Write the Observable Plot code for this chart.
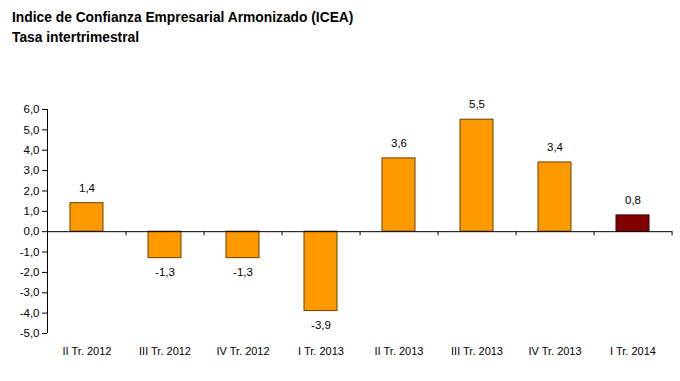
<!DOCTYPE html>
<html><head><meta charset="utf-8">
<script src="https://cdn.jsdelivr.net/npm/d3@7"></script>
<script src="https://cdn.jsdelivr.net/npm/@observablehq/plot@0.6"></script>
<style>
body{margin:0;background:#fff;font-family:"Liberation Sans",Arial,sans-serif;}
#title{padding:8px 0 0 12px;font-weight:bold;font-size:13.8px;line-height:20px;color:#000;height:42px;}
</style></head><body>
<div id="title">Indice de Confianza Empresarial Armonizado (ICEA)<br>Tasa intertrimestral</div>
<div id="chart"></div>
<script>
const categories = ["II Tr. 2012","III Tr. 2012","IV Tr. 2012","I Tr. 2013","II Tr. 2013","III Tr. 2013","IV Tr. 2013","I Tr. 2014"];
const values = [1.4,-1.3,-1.3,-3.9,3.6,5.5,3.4,0.8];
const highlight = [false,false,false,false,false,false,false,true];
const yTicks = [-5,-4,-3,-2,-1,0,1,2,3,4,5,6];

const data = categories.map((c,i)=>({cat:c, v:values[i], hl:highlight[i]}));
const fmt = d => d3.format(".1f")(d).replace(".",",").replace("−","-");
const W = 680, H = 331, ml = 47, mr = 8;
const step = (W-ml-mr)/categories.length;

const yAxisLine = (index, scales, values, dims) => {
  const ns = "http://www.w3.org/2000/svg";
  const l = document.createElementNS(ns, "line");
  const y0 = scales.y(d3.min(yTicks)), y1 = scales.y(d3.max(yTicks));
  l.setAttribute("x1", dims.marginLeft + 0.5); l.setAttribute("x2", dims.marginLeft + 0.5);
  l.setAttribute("y1", y0); l.setAttribute("y2", y1);
  l.setAttribute("stroke", "#000");
  return l;
};

const plot = Plot.plot({
  width: W, height: H,
  marginLeft: ml, marginRight: mr, marginTop: 59, marginBottom: 48,
  style: {fontFamily: "Liberation Sans, Arial, sans-serif", fontSize: "11px", color:"#000"},
  x: {domain: categories, paddingInner: 0.58, paddingOuter: 0.29, label: null},
  y: {domain: [-5, 6], label: null},
  marks: [
    Plot.axisY({ticks: yTicks, tickFormat: fmt, tickSize: 5, tickPadding: 3, fontSize: 11.5}),
    yAxisLine,
    Plot.axisX({tickSize: 0, tickPadding: 14, fontSize: 11}),
    Plot.barY(data, {x: "cat", y: "v", fill: d => d.hl ? "#800000" : "#FF9900", stroke: d => d.hl ? "#400000" : "#6b4000", strokeWidth: 1}),
    Plot.ruleY([0], {stroke: "#000", strokeWidth: 1}),
    Plot.ruleX(categories, {x: d => d, dx: step/2, y1: 0, y2: -0.2, stroke:"#000"}),
    Plot.text(data, {x: "cat", y: "v", text: d => fmt(d.v), fontSize: 11.5,
      filter: d => d.v >= 0, dy: -15}),
    Plot.text(data, {x: "cat", y: "v", text: d => fmt(d.v), fontSize: 11.5,
      filter: d => d.v < 0, dy: 14})
  ]
});
document.getElementById("chart").appendChild(plot);
</script>
</body></html>
